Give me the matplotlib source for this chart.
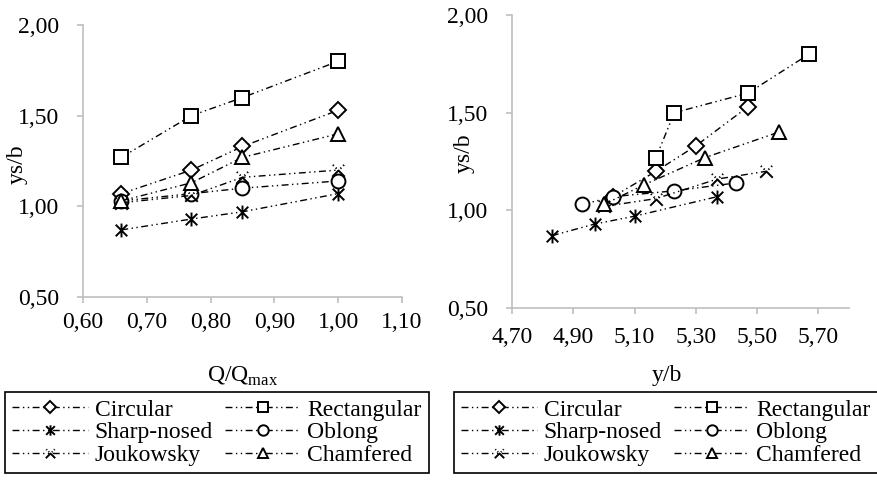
import matplotlib.pyplot as plt
from matplotlib.path import Path
from matplotlib.ticker import FuncFormatter

plt.rcParams['font.family'] = ['Liberation Serif', 'DejaVu Serif']
plt.rcParams['mathtext.fontset'] = 'custom'
plt.rcParams['mathtext.rm'] = 'Liberation Serif'

# -------- data -------- #
names = ["Circular", "Rectangular", "Sharp-nosed", "Oblong", "Joukowsky", "Chamfered"]

# relative scour depth ys/b (same in both panels)
ys_circular = [1.07, 1.20, 1.33, 1.53]
ys_rect = [1.27, 1.50, 1.60, 1.80]
ys_sharp = [0.87, 0.93, 0.97, 1.07]
ys_oblong = [1.03, 1.07, 1.10, 1.14]
ys_jouk = [1.02, 1.06, 1.16, 1.20]
ys_chamf = [1.03, 1.13, 1.27, 1.40]

# left panel: Q/Qmax
q_ratio = [0.66, 0.77, 0.85, 1.00]

# right panel: y/b per pier shape
yb_circular = [5.03, 5.17, 5.30, 5.47]
yb_rect = [5.17, 5.23, 5.47, 5.67]
yb_sharp = [4.83, 4.97, 5.10, 5.37]
yb_oblong = [4.93, 5.03, 5.23, 5.43]
yb_jouk = [5.00, 5.17, 5.37, 5.53]
yb_chamf = [5.00, 5.13, 5.33, 5.57]

left_xticks = [0.60, 0.70, 0.80, 0.90, 1.00, 1.10]
right_xticks = [4.70, 4.90, 5.10, 5.30, 5.50, 5.70]
yticks = [0.50, 1.00, 1.50, 2.00]

# Joukowsky marker: solid lower half of an x, dotted upper half
jouk_marker = Path(
    [(-1, -1), (0, 0), (1, -1),
     (-0.3, 0.3), (-0.45, 0.45), (0.3, 0.3), (0.45, 0.45),
     (-0.75, 0.75), (-0.9, 0.9), (0.75, 0.75), (0.9, 0.9)],
    [Path.MOVETO, Path.LINETO, Path.LINETO,
     Path.MOVETO, Path.LINETO, Path.MOVETO, Path.LINETO,
     Path.MOVETO, Path.LINETO, Path.MOVETO, Path.LINETO])

# Sharp-nosed marker: x with a vertical bar (Excel star)
star_marker = Path(
    [(-1, -1), (1, 1), (-1, 1), (1, -1), (0, -1.2), (0, 1.2)],
    [Path.MOVETO, Path.LINETO, Path.MOVETO, Path.LINETO, Path.MOVETO, Path.LINETO])

markers = {"Circular": "D", "Rectangular": "s", "Sharp-nosed": star_marker,
           "Oblong": "o", "Joukowsky": jouk_marker, "Chamfered": "^"}
msizes = {"Circular": 8, "Rectangular": 10.5, "Sharp-nosed": 10,
          "Oblong": 10, "Joukowsky": 9, "Chamfered": 10}

ys_all = {"Circular": ys_circular, "Rectangular": ys_rect, "Sharp-nosed": ys_sharp,
          "Oblong": ys_oblong, "Joukowsky": ys_jouk, "Chamfered": ys_chamf}
yb_all = {"Circular": yb_circular, "Rectangular": yb_rect, "Sharp-nosed": yb_sharp,
          "Oblong": yb_oblong, "Joukowsky": yb_jouk, "Chamfered": yb_chamf}

dash = (5, 2.5, 1, 2.5, 1, 2.5)
gray = '#BFBFBF'
comma = FuncFormatter(lambda v, p: f"{v:.2f}".replace('.', ','))

fig = plt.figure(figsize=(8.77, 4.82), dpi=100)
ax1 = fig.add_axes([83 / 877, 1 - 297 / 482, 319 / 877, 272 / 482])
ax2 = fig.add_axes([512 / 877, 1 - 308 / 482, 337 / 877, 293 / 482])


def draw(ax, xdata):
    handles = {}
    for n in names:
        line, = ax.plot(xdata[n], ys_all[n], color='black', lw=1.0,
                        dashes=dash, marker=markers[n], markersize=msizes[n],
                        markerfacecolor='white' if n not in ("Sharp-nosed", "Joukowsky") else 'none',
                        markeredgecolor='black',
                        markeredgewidth=1.4,
                        label=n)
        handles[n] = line
    return handles


h = draw(ax1, {n: q_ratio for n in names})
draw(ax2, yb_all)

for ax in (ax1, ax2):
    for s in ('top', 'right'):
        ax.spines[s].set_visible(False)
    for s in ('left', 'bottom'):
        ax.spines[s].set_color(gray)
        ax.spines[s].set_linewidth(1.2)
    ax.tick_params(direction='out', length=4, width=1.2, color=gray,
                   labelsize=17, labelcolor='black')
    ax.tick_params(axis='y', pad=13)
    ax.set_yticks(yticks)
    ax.set_ylim(0.50, 2.00)
    ax.yaxis.set_major_formatter(comma)
    ax.xaxis.set_major_formatter(comma)
    ax.set_ylabel('ys/b', fontsize=17)

ax1.set_xticks(left_xticks)
ax1.set_xlim(0.60, 1.10)
ax1.tick_params(axis='x', pad=7)
ax1.set_xlabel('Q/Q$_{\\mathregular{max}}$', fontsize=17)
ax1.xaxis.set_label_coords(0.5, -0.25)
ax1.yaxis.set_label_coords(-0.172, 0.49)

ax2.set_xticks(right_xticks)
ax2.set_xlim(4.70, 5.80)
ax2.tick_params(axis='x', pad=10)
ax2.set_xlabel('y/b', fontsize=17)
ax2.xaxis.set_label_coords(0.46, -0.195)
ax2.yaxis.set_label_coords(-0.11, 0.53)

order = ["Circular", "Sharp-nosed", "Joukowsky", "Rectangular", "Oblong", "Chamfered"]
for x0 in (5 / 877, 454 / 877):
    leg = fig.legend([h[n] for n in order], order, ncol=2, loc='upper left',
                     bbox_to_anchor=(x0, 1 - 392 / 482), borderaxespad=0,
                     fontsize=17, handlelength=3.2, handletextpad=0.3,
                     columnspacing=0.5, labelspacing=0.05, markerscale=0.75,
                     fancybox=False, framealpha=1, edgecolor='black',
                     borderpad=0.3)
    leg.get_frame().set_linewidth(1.2)

fig.savefig('out.png', dpi=100)
